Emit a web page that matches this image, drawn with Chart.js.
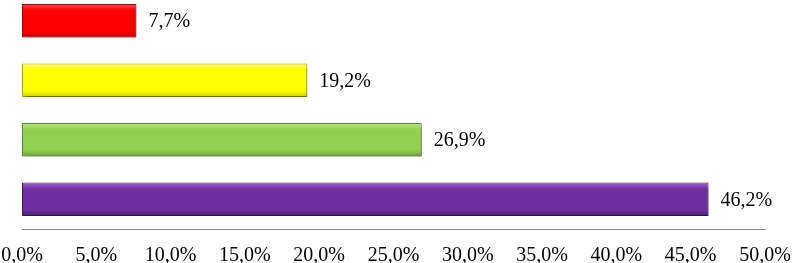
<!DOCTYPE html>
<html>
<head>
<meta charset="utf-8">
<script src="https://cdn.jsdelivr.net/npm/chart.js@4/dist/chart.umd.min.js"></script>
<style>
  html, body { margin: 0; padding: 0; background: #fff; overflow: hidden; }
  #wrap { position: absolute; left: 0; top: -9px; width: 792px; height: 272px; }
</style>
</head>
<body>
<div id="wrap"><canvas id="barChart"></canvas></div>
<script>
// values
const categories = ['A', 'B', 'C', 'D'];
const values = [7.7, 19.2, 26.9, 46.2];
const tickValues = [0, 5, 10, 15, 20, 25, 30, 35, 40, 45, 50];

// light / base / dark tone for each bar
const tones = [
  ['#ff5050', '#ff0000', '#c00000'],
  ['#ffff70', '#ffff00', '#cfcf00'],
  ['#b8e68a', '#92d050', '#6a9c38'],
  ['#a066cf', '#7030a0', '#4c1d74']
];
const edges = ['#a00000', '#a8a800', '#5a8a30', '#3f1760'];
const serif = '"Liberation Serif", "Times New Roman", serif';

function fmt(v) {
  return v.toFixed(1).replace('.', ',') + '%';
}

function barFill(ctx) {
  const chart = ctx.chart;
  const y = chart.scales.y;
  const i = ctx.dataIndex;
  const t = tones[i];
  const c = y ? y.getPixelForValue(i) : NaN;
  if (!isFinite(c)) return t[1];
  const half = 17;
  const g = chart.ctx.createLinearGradient(0, c - half, 0, c + half);
  g.addColorStop(0, t[0]);
  g.addColorStop(0.2, t[1]);
  g.addColorStop(0.8, t[1]);
  g.addColorStop(1, t[2]);
  return g;
}

const shadowPlugin = {
  id: 'shadow',
  beforeDatasetDraw(chart) {
    const c = chart.ctx;
    c.save();
    c.shadowColor = 'rgba(0,0,0,0.35)';
    c.shadowOffsetX = 2;
    c.shadowOffsetY = 3;
    c.shadowBlur = 3;
  },
  afterDatasetDraw(chart) {
    chart.ctx.restore();
  }
};

const labelPlugin = {
  id: 'valueLabels',
  afterDatasetsDraw(chart) {
    const c = chart.ctx;
    const meta = chart.getDatasetMeta(0);
    c.save();
    c.font = '20px ' + serif;
    c.fillStyle = '#000';
    c.textAlign = 'left';
    c.textBaseline = 'middle';
    meta.data.forEach((bar, i) => {
      c.fillText(fmt(values[i]), bar.x + 12, bar.y + 1);
    });
    c.restore();
  }
};

const ctx = document.getElementById('barChart').getContext('2d');
new Chart(ctx, {
  type: 'bar',
  data: {
    labels: categories,
    datasets: [{
      data: values,
      backgroundColor: barFill,
      borderColor: edges,
      borderWidth: 1,
      borderSkipped: false,
      categoryPercentage: 0.56,
      barPercentage: 1
    }]
  },
  options: {
    indexAxis: 'y',
    responsive: true,
    maintainAspectRatio: false,
    animation: false,
    layout: { padding: { left: 22, right: 27, top: 0, bottom: 0 } },
    plugins: {
      legend: { display: false },
      tooltip: { enabled: false }
    },
    scales: {
      x: {
        min: 0,
        max: 50,
        afterBuildTicks(axis) {
          axis.ticks = tickValues.map(v => ({ value: v }));
        },
        afterFit(axis) {
          axis.paddingLeft = 0;
          axis.paddingRight = 0;
          axis.height = 34;
        },
        grid: { display: false, drawTicks: false },
        border: { display: true, color: '#8c8c8c', width: 1 },
        ticks: {
          padding: 15,
          maxRotation: 0,
          autoSkip: false,
          color: '#000',
          font: { family: serif, size: 20 },
          callback: v => fmt(v)
        }
      },
      y: {
        display: false,
        grid: { display: false }
      }
    }
  },
  plugins: [shadowPlugin, labelPlugin]
});
</script>
</body>
</html>
